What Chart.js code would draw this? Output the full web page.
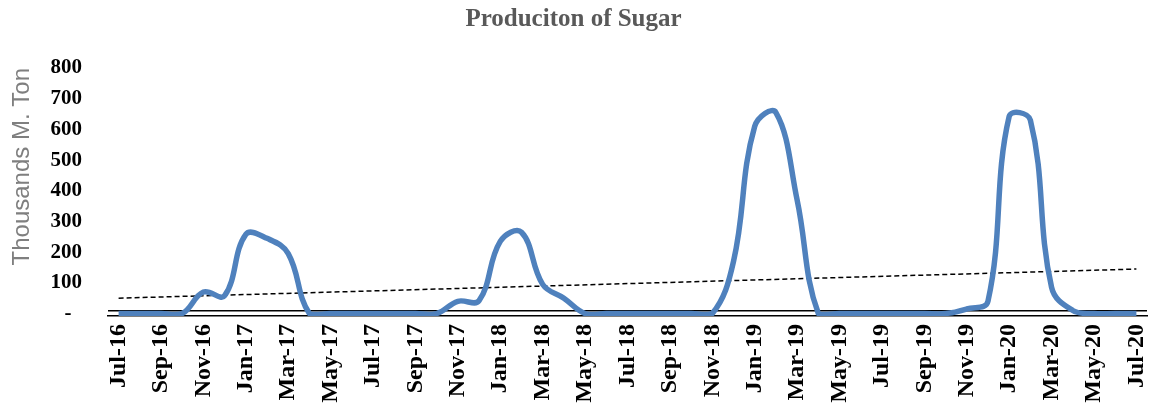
<!DOCTYPE html>
<html>
<head>
<meta charset="utf-8">
<script src="https://cdn.jsdelivr.net/npm/chart.js@4/dist/chart.umd.min.js"></script>
<style>
  html, body { margin: 0; padding: 0; background: #fff; }
  #wrap { width: 1153px; height: 404px; }
</style>
</head>
<body>
<div id="wrap"><canvas id="myChart"></canvas></div>
<script>
// months Jul-16 .. Jul-20
const months = ['Jul-16','Aug-16','Sep-16','Oct-16','Nov-16','Dec-16',
  'Jan-17','Feb-17','Mar-17','Apr-17','May-17','Jun-17','Jul-17','Aug-17','Sep-17','Oct-17','Nov-17','Dec-17',
  'Jan-18','Feb-18','Mar-18','Apr-18','May-18','Jun-18','Jul-18','Aug-18','Sep-18','Oct-18','Nov-18','Dec-18',
  'Jan-19','Feb-19','Mar-19','Apr-19','May-19','Jun-19','Jul-19','Aug-19','Sep-19','Oct-19','Nov-19','Dec-19',
  'Jan-20','Feb-20','Mar-20','Apr-20','May-20','Jun-20','Jul-20'];

// thousands M. ton
const production = [0, 0, 0, 0, 70, 58,
  258, 245, 195, 0, 0, 0, 0, 0, 0, 0, 40, 42,
  235, 265, 95, 50, 0, 0, 0, 0, 0, 0, 0, 170,
  610, 655, 370, 0, 0, 0, 0, 0, 0, 0, 15, 40,
  642, 630, 85, 10, 0, 0, 0];

// linear trend, only the two ends are known
const trendStart = 50;
const trendEnd = 145;
const trend = months.map((m, i) => i === 0 ? trendStart : (i === months.length - 1 ? trendEnd : null));

const yTicks = [0, 100, 200, 300, 400, 500, 600, 700, 800];

const ctx = document.getElementById('myChart');

new Chart(ctx, {
  type: 'line',
  data: {
    labels: months,
    datasets: [{
      label: 'Production',
      data: production,
      borderColor: '#4F81BD',
      borderWidth: 5.5,
      pointRadius: 0,
      tension: 0.4,
      fill: false
    }, {
      label: 'Trend',
      data: trend,
      borderColor: '#000',
      borderWidth: 1.5,
      borderDash: [5, 3],
      pointRadius: 0,
      spanGaps: true,
      tension: 0
    }]
  },
  options: {
    responsive: true,
    maintainAspectRatio: false,
    animation: false,
    layout: { padding: { left: 0, right: 6, top: 0, bottom: 0 } },
    plugins: {
      legend: { display: false },
      tooltip: { enabled: false },
      title: {
        display: true,
        text: 'Produciton of Sugar',
        color: '#595959',
        font: { family: 'Liberation Serif', size: 25, weight: 'bold', lineHeight: 1.2 },
        padding: { top: 5, bottom: 33 }
      }
    },
    scales: {
      x: {
        offset: true,
        grid: { display: true, color: 'transparent', drawTicks: false },
        border: { display: true, color: '#000', width: 1.5 },
        ticks: {
          autoSkip: false,
          minRotation: 90,
          maxRotation: 90,
          padding: 8,
          color: '#000',
          font: { family: 'Liberation Serif', size: 24, weight: 'bold' },
          callback: function(value, index) { return index % 2 === 0 ? months[index] : ''; }
        },
        afterFit: function(scale) {
          scale.height = 404 - 316;
          scale.paddingLeft = 0;
          scale.paddingRight = 0;
        }
      },
      y: {
        min: -8,
        max: 800,
        afterBuildTicks: function(scale) {
          scale.ticks = [{ value: 8 }].concat(yTicks.map(v => ({ value: v })));
        },
        grid: {
          drawTicks: false,
          color: function(c) { return c.tick && c.tick.value === 8 ? '#000' : 'transparent'; },
          lineWidth: 1.5
        },
        border: { display: false },
        ticks: {
          autoSkip: false,
          padding: 26,
          color: '#000',
          font: { family: 'Liberation Serif', size: 21, weight: 'bold' },
          callback: function(value) {
            if (value === 8) return '';
            return value === 0 ? '-  ' : String(value);
          }
        },
        title: {
          display: true,
          text: 'Thousands M. Ton',
          align: 'end',
          color: '#7F7F7F',
          font: { family: 'Liberation Sans', size: 24 },
          padding: { top: 8, bottom: 0 }
        },
        afterFit: function(scale) { scale.width = 108; }
      }
    }
  }
});
</script>
</body>
</html>
